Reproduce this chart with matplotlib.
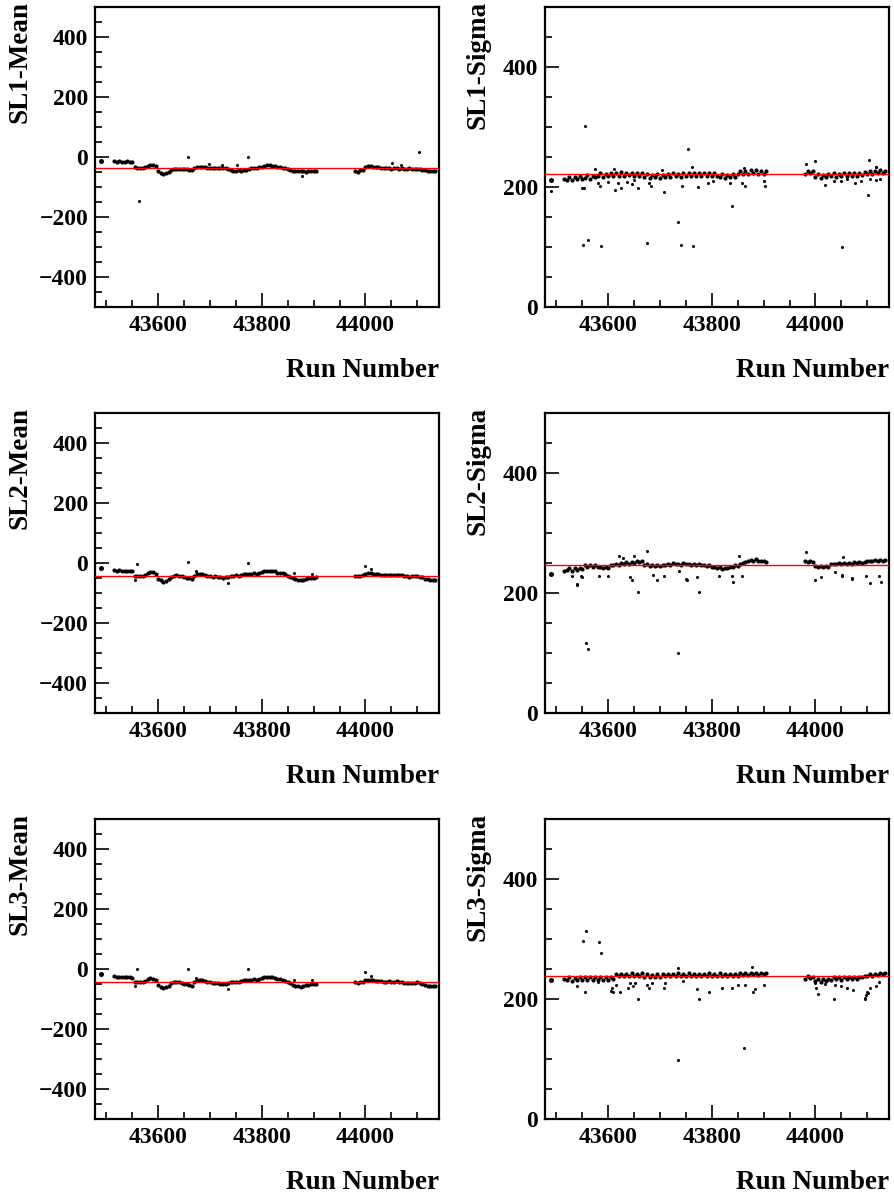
import matplotlib
matplotlib.use('Agg')
import matplotlib.pyplot as plt
from matplotlib.ticker import MultipleLocator, FixedLocator

plt.rcParams['font.family'] = ['Liberation Serif', 'DejaVu Serif']
plt.rcParams['font.weight'] = 'bold'

# --- run numbers of the plotted points (dense band)
runs = [43490, 43515,
        43520, 43525, 43530, 43535, 43540, 43545, 43550, 43555,
        43560, 43565, 43570, 43575, 43580, 43585, 43590, 43595,
        43600, 43605, 43610, 43615, 43620, 43625, 43630, 43635, 43640, 43645,
        43650, 43655, 43660, 43665, 43670, 43675, 43680, 43685, 43690, 43695,
        43700, 43705, 43710, 43715, 43720, 43725, 43730, 43735, 43740, 43745,
        43750, 43755, 43760, 43765, 43770, 43775, 43780, 43785, 43790, 43795,
        43800, 43805, 43810, 43815, 43820, 43825, 43830, 43835, 43840, 43845,
        43850, 43855, 43860, 43865, 43870, 43875, 43880, 43885, 43890, 43895,
        43900, 43905,
        43980, 43985, 43990, 43995,
        44000, 44005, 44010, 44015, 44020, 44025, 44030, 44035, 44040, 44045,
        44050, 44055, 44060, 44065, 44070, 44075, 44080, 44085, 44090, 44095,
        44100, 44105, 44110, 44115, 44120, 44125, 44130, 44135]

sl1_mean = [-12, -14,
            -15, -14, -16, -15, -14, -16, -15, -34, -36, -35, -37, -33, -29, -27, -28, -31,
            -46, -52, -55, -53, -50, -43, -41, -40, -39, -40, -41, -40, -42, -43, -38, -34, -33, -32, -34, -35,
            -36, -36, -37, -36, -35, -35, -36, -40, -43, -45, -46, -44, -45, -43, -42, -40, -37, -35, -35, -34,
            -33, -30, -28, -28, -29, -31, -34, -34, -35, -36, -41, -43, -45, -46, -46, -47, -48, -49, -48, -47,
            -46, -47,
            -45, -50, -43, -44,
            -33, -31, -30, -32, -33, -34, -38, -38, -37, -38, -39, -38, -38, -39, -38, -39, -39, -38, -40, -39,
            -39, -41, -42, -44, -45, -46, -46, -47]
sl2_mean = [-18, -22,
            -25, -24, -26, -25, -27, -25, -28, -42, -43, -44, -43, -40, -33, -30, -31, -36,
            -52, -58, -63, -60, -54, -45, -42, -41, -42, -44, -48, -50, -51, -54, -43, -38, -37, -36, -39, -42,
            -44, -45, -44, -47, -48, -49, -48, -46, -43, -42, -41, -42, -40, -38, -36, -35, -35, -34, -35, -33,
            -29, -27, -25, -26, -27, -28, -32, -33, -34, -38, -43, -45, -49, -53, -56, -57, -55, -53, -51, -50,
            -49, -48,
            -42, -43, -42, -41,
            -36, -33, -34, -36, -37, -38, -40, -41, -40, -39, -40, -41, -39, -40, -41, -43, -44, -45, -44, -43,
            -43, -45, -48, -52, -54, -56, -57, -56]
sl3_mean = [-18, -22,
            -26, -25, -27, -26, -28, -26, -29, -42, -43, -43, -42, -39, -33, -31, -32, -37,
            -54, -60, -64, -61, -56, -46, -44, -43, -44, -45, -49, -51, -52, -56, -43, -38, -37, -37, -40, -43,
            -44, -45, -45, -48, -49, -50, -49, -47, -43, -42, -42, -42, -41, -38, -36, -35, -35, -34, -35, -33,
            -30, -27, -26, -26, -27, -29, -32, -33, -35, -39, -44, -47, -52, -56, -58, -59, -57, -54, -52, -51,
            -50, -49,
            -44, -45, -44, -42,
            -37, -35, -37, -38, -39, -40, -41, -42, -42, -41, -42, -43, -41, -42, -43, -45, -46, -47, -46, -45,
            -44, -46, -50, -53, -55, -57, -58, -57]
sl1_sigma = [211, 214,
             212, 217, 211, 216, 213, 218, 214, 215, 220, 214, 219, 216, 218, 223, 217, 222,
             219, 224, 218, 223, 219, 225, 218, 223, 220, 224, 218, 223, 219, 224, 216, 221, 215, 220, 216, 221,
             215, 220, 216, 222, 217, 223, 218, 222, 217, 223, 219, 224, 218, 224, 219, 223, 218, 224, 219, 223,
             218, 223, 219, 216, 221, 215, 220, 216, 221, 217, 222, 226, 221, 227, 222, 228, 223, 228, 222, 227,
             222, 226,
             221, 226, 223, 227,
             216, 221, 215, 220, 216, 221, 218, 223, 217, 222, 218, 223, 219, 224, 218, 223, 219, 224, 220, 225,
             221, 226, 222, 227, 223, 228, 223, 226]
sl2_sigma = [232, 237,
             238, 241, 237, 241, 239, 242, 240, 246, 243, 247, 244, 246, 243, 244, 241, 244,
             242, 247, 246, 249, 247, 250, 248, 251, 249, 252, 250, 253, 251, 254, 246, 248, 245, 247, 245, 247,
             245, 247, 246, 249, 247, 250, 248, 249, 247, 250, 248, 248, 246, 248, 246, 248, 246, 247, 245, 247,
             243, 244, 241, 243, 240, 242, 241, 243, 244, 247, 245, 248, 250, 252, 253, 255, 254, 256, 254, 254,
             253, 252,
             254, 252, 253, 251,
             245, 244, 245, 243, 245, 244, 248, 249, 248, 250, 249, 250, 248, 250, 249, 251, 250, 251, 250, 252,
             253, 254, 253, 255, 254, 255, 254, 255]
sl3_sigma = [232, 234,
             231, 236, 230, 235, 231, 236, 232, 237, 231, 236, 232, 237, 231, 236, 232, 237,
             232, 236, 233, 241, 238, 242, 238, 242, 239, 243, 238, 242, 239, 243, 237, 241, 236, 240, 237, 241,
             237, 241, 238, 242, 238, 242, 239, 243, 238, 242, 239, 243, 238, 242, 239, 242, 238, 242, 239, 243,
             238, 242, 239, 243, 238, 242, 239, 242, 238, 242, 239, 243, 240, 244, 240, 244, 241, 244, 240, 244,
             241, 243,
             234, 238, 235, 237,
             230, 234, 229, 234, 230, 233, 232, 236, 233, 237, 232, 236, 233, 237, 233, 237, 234, 237, 236, 239,
             238, 241, 239, 242, 240, 243, 241, 243]

# --- isolated points away from the band
sl1_mean_xr = [43562, 43658, 43774, 43877, 44104, 44051, 44069, 43699, 43753, 43723]
sl1_mean_xv = [-148, 1, 1, -62, 16, -21, -25, -24, -28, -27]
sl2_mean_xr = [43560, 43555, 43658, 43774, 43673, 43734, 43863, 43897, 43999, 44010]
sl2_mean_xv = [-2, -55, 2, 1, -27, -67, -34, -37, -9, -20]
sl3_mean_xr = [43560, 43555, 43658, 43774, 43673, 43734, 43863, 43897, 43999, 44010]
sl3_mean_xv = [-1, -56, 0, -1, -29, -67, -35, -35, -11, -22]

sl1_sigma_xr = [43556, 43754, 43552, 43561, 43587, 43674, 43734, 43741, 43763, 43838,
                44051, 44102, 44104, 44000, 43981, 43708, 43490, 44117,
                43549, 43554, 43581, 43584, 43600, 43613, 43618, 43625, 43636, 43645,
                43649, 43658, 43678, 43683, 43703, 43743, 43761, 43774, 43792, 43803,
                43835, 43858, 43864, 43863, 43900, 43903, 44018, 44036, 44050, 44061,
                44077, 44087, 44106, 44116, 44124, 44116, 43575, 43611]
sl1_sigma_xv = [302, 263, 104, 112, 101, 106, 141, 104, 101, 168,
                100, 187, 245, 243, 238, 192, 194, 233,
                198, 198, 207, 202, 209, 195, 207, 199, 208, 205,
                211, 199, 207, 201, 229, 202, 234, 200, 207, 210,
                207, 206, 201, 232, 210, 202, 203, 210, 210, 213,
                207, 210, 213, 212, 213, 234, 230, 230]
sl2_sigma_xr = [43557, 43561, 43734, 43658, 43775, 43540, 43674, 43852, 43981, 44054,
                43642, 43645, 43549, 43582, 43600, 43686, 43695, 43708, 43752, 43772,
                43813, 43839, 43841, 43858, 44000, 44011, 44037, 44052, 44071, 44098,
                44106, 44123, 44127, 43530, 43628, 43650, 43620, 43539, 43548, 43751,
                43736, 44070, 44051]
sl2_sigma_xv = [117, 107, 100, 201, 201, 215, 270, 261, 268, 260,
                226, 221, 226, 228, 228, 230, 222, 228, 222, 226,
                228, 228, 219, 228, 222, 226, 235, 228, 224, 229,
                216, 228, 219, 228, 258, 261, 262, 214, 228, 223,
                237, 225, 230]
sl3_sigma_xr = [43557, 43552, 43582, 43586, 43734, 43863, 43658, 43775, 44036, 44095,
                43734, 43878, 43539, 43555, 43581, 43607, 43609, 43616, 43623, 43639,
                43642, 43647, 43652, 43674, 43678, 43684, 43707, 43710, 43745, 43771,
                43794, 43819, 43839, 43850, 43864, 43884, 43879, 43900, 43999, 44001,
                44005, 44018, 44050, 44060, 44072, 44099, 44106, 44116, 44096, 44122,
                44038, 43605, 44098, 44101]
sl3_sigma_xv = [313, 297, 295, 277, 99, 118, 200, 200, 200, 200,
                252, 254, 222, 212, 228, 219, 212, 223, 212, 219,
                226, 222, 226, 223, 218, 226, 219, 226, 230, 217,
                212, 218, 218, 224, 224, 217, 212, 224, 226, 218,
                209, 225, 221, 219, 215, 212, 218, 222, 201, 229,
                223, 214, 206, 210]

# --- fitted constant (red line)
fit_mean = [-38, -43, -44]
fit_sigma = [221, 246, 238]

panels = [
    ('SL1-Mean', sl1_mean, sl1_mean_xr, sl1_mean_xv, fit_mean[0], True),
    ('SL1-Sigma', sl1_sigma, sl1_sigma_xr, sl1_sigma_xv, fit_sigma[0], False),
    ('SL2-Mean', sl2_mean, sl2_mean_xr, sl2_mean_xv, fit_mean[1], True),
    ('SL2-Sigma', sl2_sigma, sl2_sigma_xr, sl2_sigma_xv, fit_sigma[1], False),
    ('SL3-Mean', sl3_mean, sl3_mean_xr, sl3_mean_xv, fit_mean[2], True),
    ('SL3-Sigma', sl3_sigma, sl3_sigma_xr, sl3_sigma_xv, fit_sigma[2], False),
]

W, H = 895, 1198
fig = plt.figure(figsize=(W / 100, H / 100), dpi=100)

lefts = [95, 545]
tops = [7, 413, 819]
aw, ah = 344, 300

for i, (name, vals, xr, xv, fit, is_mean) in enumerate(panels):
    row, col = divmod(i, 2)
    ax = fig.add_axes([lefts[col] / W, 1 - (tops[row] + ah) / H, aw / W, ah / H])

    ax.plot(runs[1:], vals[1:], 'o', color='black', ms=3.0, mew=0, zorder=3)
    ax.plot(runs[:1], vals[:1], 'o', color='black', ms=3.6, mew=0, zorder=3)
    ax.plot(xr, xv, 'o', color='black', ms=2.2, mew=0, zorder=3)
    ax.axhline(fit, color='red', lw=1.0, zorder=4)

    ax.set_xlim(43478, 44142)
    if is_mean:
        ax.set_ylim(-500, 500)
        ax.yaxis.set_major_locator(FixedLocator([-400, -200, 0, 200, 400]))
        lab_x = -0.219
    else:
        ax.set_ylim(0, 500)
        ax.yaxis.set_major_locator(FixedLocator([0, 200, 400]))
        lab_x = -0.195
    ax.yaxis.set_minor_locator(MultipleLocator(50))
    ax.xaxis.set_major_locator(FixedLocator([43600, 43800, 44000]))
    ax.xaxis.set_minor_locator(MultipleLocator(50))

    ax.tick_params(which='both', direction='in', top=False, right=False, width=1.2)
    ax.tick_params(which='major', length=10, labelsize=17, pad=5)
    ax.tick_params(which='minor', length=5)
    ax.tick_params(axis='x', which='major', pad=6)
    for lab in ax.get_xticklabels() + ax.get_yticklabels():
        lab.set_fontweight('bold')
    for sp in ax.spines.values():
        sp.set_linewidth(1.6)

    ax.text(lab_x, 1.02, name, transform=ax.transAxes, rotation=90,
            ha='center', va='top', fontsize=19.5, fontweight='bold')
    ax.text(1.0, -0.213, 'Run Number', transform=ax.transAxes,
            ha='right', va='center', fontsize=19.5, fontweight='bold')

fig.savefig('out.png', dpi=100)
